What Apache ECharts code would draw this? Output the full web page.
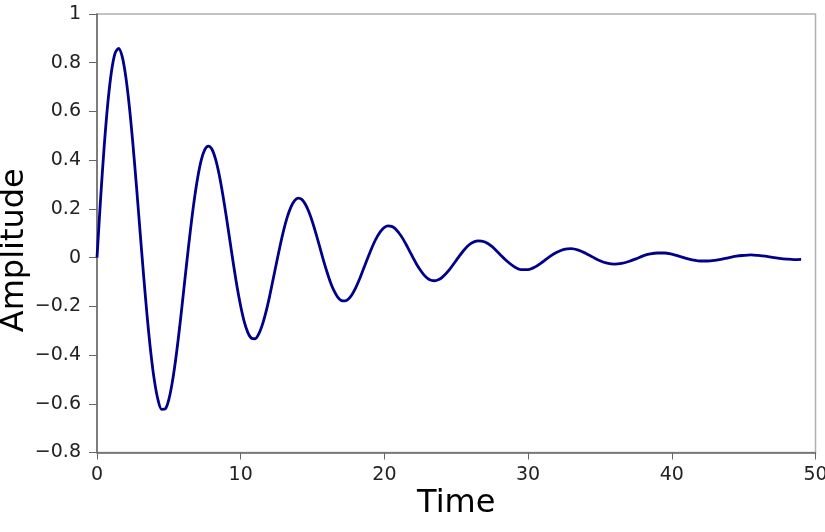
<!DOCTYPE html>
<html>
<head>
<meta charset="utf-8">
<script src="https://cdn.jsdelivr.net/npm/echarts@6/dist/echarts.min.js"></script>
<style>html,body{margin:0;padding:0;background:#fff;}#c{width:825px;height:532px;}</style>
</head>
<body>
<div id="c"></div>
<script>
// Time values
const times = [0,0.25,0.5,0.75,1,1.25,1.5,1.75,2,2.25,2.5,2.75,3,3.25,3.5,3.75,4,4.25,4.5,4.75,5,5.25,5.5,5.75,6,6.25,6.5,6.75,7,7.25,7.5,7.75,8,8.25,8.5,8.75,9,9.25,9.5,9.75,10,10.25,10.5,10.75,11,11.25,11.5,11.75,12,12.25,12.5,12.75,13,13.25,13.5,13.75,14,14.25,14.5,14.75,15,15.25,15.5,15.75,16,16.25,16.5,16.75,17,17.25,17.5,17.75,18,18.25,18.5,18.75,19,19.25,19.5,19.75,20,20.25,20.5,20.75,21,21.25,21.5,21.75,22,22.25,22.5,22.75,23,23.25,23.5,23.75,24,24.5,25,25.5,26,26.5,27,27.5,28,28.5,29,29.5,30,30.5,31,31.5,32,32.5,33,33.5,34,34.5,35,35.5,36,36.5,37,37.5,38,38.5,39,39.5,40,40.5,41,41.5,42,42.5,43,43.5,44,44.5,45,45.5,46,46.5,47,47.5,48,48.5,49];
// Amplitude values
const amplitude = [0,0.241,0.456,0.632,0.761,0.837,0.859,0.826,0.744,0.621,0.466,0.290,0.105,-0.078,-0.247,-0.393,-0.507,-0.585,-0.623,-0.621,-0.582,-0.508,-0.407,-0.286,-0.153,-0.018,0.112,0.229,0.326,0.399,0.443,0.458,0.445,0.404,0.341,0.260,0.168,0.069,-0.029,-0.121,-0.200,-0.264,-0.308,-0.331,-0.333,-0.314,-0.277,-0.225,-0.162,-0.091,-0.019,0.051,0.115,0.168,0.208,0.234,0.244,0.239,0.219,0.187,0.145,0.096,0.044,-0.009,-0.058,-0.102,-0.137,-0.162,-0.176,-0.178,-0.170,-0.151,-0.124,-0.091,-0.053,-0.015,0.022,0.057,0.086,0.109,0.124,0.130,0.128,0.119,0.102,0.081,0.055,0.027,-0.001,-0.028,-0.051,-0.071,-0.085,-0.093,-0.095,-0.091,-0.082,-0.051,-0.011,0.028,0.057,0.069,0.064,0.045,0.016,-0.013,-0.036,-0.049,-0.049,-0.038,-0.018,0.004,0.022,0.034,0.037,0.031,0.018,0.002,-0.013,-0.023,-0.027,-0.024,-0.016,-0.005,0.007,0.015,0.019,0.019,0.014,0.006,-0.003,-0.010,-0.014,-0.014,-0.011,-0.006,0.000,0.006,0.009,0.011,0.009,0.006,0.001,-0.003,-0.006,-0.008,-0.007];
const xTicks = [0,10,20,30,40,50];
const yTicks = [-0.8,-0.6,-0.4,-0.2,0,0.2,0.4,0.6,0.8,1];

const chart = echarts.init(document.getElementById('c'), null, {renderer:'canvas'});
const fmt = v => { const r = Math.round(v*10)/10; return (r < 0 ? '\u2212' + String(-r) : String(r)); };
const font = 'DejaVu Sans';
chart.setOption({
  animation:false,
  backgroundColor:'#fff',
  grid:{left:97, right:9.5, top:14, bottom:79.5, containLabel:false, outerBoundsMode:'none',
        show:true, borderColor:'#b0b0b0', borderWidth:1.5},
  xAxis:{
    type:'value', min:xTicks[0], max:xTicks[xTicks.length-1], interval:10,
    name:'Time', nameLocation:'middle', nameGap:35, nameMoveOverlap:false,
    nameTextStyle:{fontFamily:font, fontSize:32, color:'#000'},
    axisLine:{show:true, onZero:false, lineStyle:{color:'#666', width:1.5}},
    axisTick:{show:true, inside:false, length:7, lineStyle:{color:'#666'}},
    axisLabel:{fontFamily:font, fontSize:19, color:'#222', margin:13},
    splitLine:{show:false}
  },
  yAxis:{
    type:'value', min:yTicks[0], max:yTicks[yTicks.length-1], interval:0.2,
    name:'Amplitude', nameLocation:'middle', nameGap:66, nameRotate:90, nameMoveOverlap:false,
    nameTextStyle:{fontFamily:font, fontSize:32, color:'#000', padding:[0,34,0,0]},
    axisLine:{show:true, onZero:false, lineStyle:{color:'#666', width:1.5}},
    axisTick:{show:true, inside:false, length:8, lineStyle:{color:'#666'}},
    axisLabel:{fontFamily:font, fontSize:19, color:'#222', margin:16, formatter:fmt},
    splitLine:{show:false}
  },
  series:[{
    type:'line',
    data:times.map((t,i)=>[t, amplitude[i]]),
    smooth:0.3,
    showSymbol:false,
    lineStyle:{color:'#00008b', width:2.8},
    clip:true
  }]
});
</script>
</body>
</html>
